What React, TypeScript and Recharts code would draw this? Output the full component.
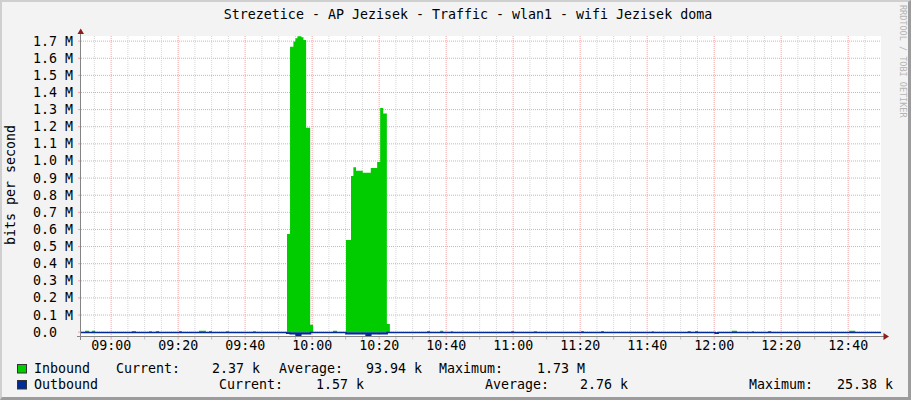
import React from "react";
import { AreaChart, Area, XAxis, YAxis, CartesianGrid } from "recharts";

// time axis in minutes since midnight
const X0 = 531;
const X1 = 769.8;
const Y0 = -25380;
const Y1 = 1730000;

const majorTicks = [540, 560, 580, 600, 620, 640, 660, 680, 700, 720, 740, 760];
const minorTicks = [
  535, 540, 545, 550, 555, 560, 565, 570, 575, 580, 585, 590, 595, 600, 605, 610, 615, 620,
  625, 630, 635, 640, 645, 650, 655, 660, 665, 670, 675, 680, 685, 690, 695, 700, 705, 710,
  715, 720, 725, 730, 735, 740, 745, 750, 755, 760, 765,
];
const yTicks = [
  0, 100000, 200000, 300000, 400000, 500000, 600000, 700000, 800000, 900000, 1000000,
  1100000, 1200000, 1300000, 1400000, 1500000, 1600000, 1700000,
];

// [minute, bits/s] change points, stepped
const inboundSteps: [number, number][] = [
  [531, 0], [532.2, 8000], [533.4, 0], [534.3, 8000], [535.2, 0],
  [546.2, 7000], [547.4, 0], [551.3, 6000], [552.2, 0], [553.4, 7000], [554.3, 0],
  [560.3, 7000], [561.1, 0], [566.2, 8000], [568.3, 0], [569.2, 7000], [570.1, 0],
  [574.3, 6000], [575.2, 0], [582.3, 6000], [583.2, 0],
  [592.5, 574000], [593.4, 1667000], [594.4, 1698000], [595.0, 1717000], [595.6, 1729000],
  [596.8, 1722000], [597.4, 1706000], [598.2, 1194000], [599.4, 43000], [600.3, 0],
  [606.2, 8000], [607.4, 0],
  [610.1, 539000], [611.6, 912000], [612.3, 963000], [613.1, 943000], [615.1, 931000],
  [617.5, 959000], [619.4, 994000], [620.3, 1309000], [621.2, 1278000], [622.3, 48000],
  [623.2, 0],
  [634.3, 7000], [635.2, 0], [638.2, 8000], [639.1, 0], [641.4, 6000], [642.0, 0],
  [659.4, 7000], [660.3, 0], [666.2, 6000], [667.1, 0], [680.3, 7000], [681.1, 0],
  [686.2, 7000], [687.1, 0], [701.4, 6000], [702.0, 0], [712.1, 7000], [713.0, 0],
  [714.3, 7000], [715.2, 0], [725.3, 8000], [726.8, 0], [731.3, 6000], [731.9, 0],
  [736.1, 7000], [737.0, 0], [760.3, 8000], [762.1, 0], [769.8, 2370],
];

// outbound is drawn below zero
const outboundSteps: [number, number][] = [
  [531, -1600], [592.4, -6000], [593.4, -10000], [595.2, -21000], [596.6, -10000],
  [599.5, -1600], [610.1, -10000], [616.1, -25380], [617.5, -10000], [622.4, -1600],
  [720.3, -6000], [721.2, -1600], [769.8, -1570],
];

const legendInbound = ["Inbound", "Current:", "2.37 k", "Average:", "93.94 k", "Maximum:", "1.73 M"];
const legendOutbound = ["Outbound", "Current:", "1.57 k", "Average:", "2.76 k", "Maximum:", "25.38 k"];
const legendInboundX = [34, 116, 212, 279, 366, 439, 537];
const legendOutboundX = [34, 219, 316, 485, 580, 749, 837];

const valueAt = (steps: [number, number][], t: number) => {
  let v = steps[0][1];
  for (const [s, val] of steps) {
    if (s <= t) v = val;
    else break;
  }
  return v;
};

const times = Array.from(new Set([...inboundSteps, ...outboundSteps].map((s) => s[0]))).sort((a, b) => a - b);
const data = times.map((t) => ({ t, inbound: valueAt(inboundSteps, t), outbound: valueAt(outboundSteps, t) }));

const FONT = "'DejaVu Sans Mono', monospace";
const GREEN = "#00CC00";
const BLUE = "#002A97";
const MGRID = "#f7a3a3";
const GRID = "#d6d6d6";

const hhmm = (m: number) => {
  const h = Math.floor(m / 60);
  const mm = Math.round(m - h * 60);
  return `${String(h).padStart(2, "0")}:${String(mm).padStart(2, "0")}`;
};

function XTick({ x, y, payload }: any) {
  const major = majorTicks.includes(payload.value);
  return (
    <g>
      <line x1={x} x2={x} y1={y} y2={y + 3} stroke={major ? MGRID : "#bdbdbd"} />
      {major && (
        <text x={x} y={y + 13.5} textAnchor="middle" fontFamily={FONT} fontSize={13.3} fill="#000">
          {hhmm(payload.value)}
        </text>
      )}
    </g>
  );
}

function YTick({ x, y, payload }: any) {
  const v = payload.value as number;
  return (
    <g>
      <line x1={x - 3} x2={x} y1={y} y2={y} stroke={MGRID} />
      <text x={x - 48} y={y + 4.5} textAnchor="start" fontFamily={FONT} fontSize={13.3} fill="#000">
        {v === 0 ? "0.0" : `${(v / 1e6).toFixed(1)} M`}
      </text>
    </g>
  );
}

const gridX = (ticks: number[]) => ({ xAxis, offset }: any) =>
  ticks.map((t) =>
    xAxis && typeof xAxis.scale === "function"
      ? xAxis.scale(t)
      : offset.left + ((t - X0) / (X1 - X0)) * offset.width
  );

const gridY = ({ yAxis, offset }: any) =>
  yTicks.map((t) =>
    yAxis && typeof yAxis.scale === "function"
      ? yAxis.scale(t)
      : offset.top + ((Y1 - t) / (Y1 - Y0)) * offset.height
  );

export default function App() {
  return (
    <div style={{ position: "absolute", left: 0, top: 0, width: 911, height: 400, background: "#f3f3f3", overflow: "hidden" }}>
      <AreaChart width={911} height={400} data={data} margin={{ top: 36, right: 30, left: 21, bottom: 33.5 }}>
        <CartesianGrid fill="#ffffff" vertical={false} horizontalCoordinatesGenerator={gridY} stroke={MGRID} strokeDasharray="1 1" />
        <CartesianGrid horizontal={false} verticalCoordinatesGenerator={gridX(minorTicks.filter((t) => !majorTicks.includes(t)))} stroke={GRID} strokeDasharray="1 1" />
        <CartesianGrid horizontal={false} verticalCoordinatesGenerator={gridX(majorTicks)} stroke={MGRID} strokeDasharray="1 1" />
        <XAxis
          dataKey="t"
          type="number"
          domain={[X0, X1]}
          allowDataOverflow
          ticks={minorTicks}
          interval={0}
          height={30}
          tickSize={0}
          tickMargin={0}
          tickLine={false}
          axisLine={false}
          tick={<XTick />}
        />
        <YAxis
          type="number"
          domain={[Y0, Y1]}
          allowDataOverflow
          ticks={yTicks}
          interval={0}
          width={60}
          tickSize={0}
          tickMargin={0}
          tickLine={false}
          axisLine={false}
          tick={<YTick />}
        />
        <Area type="stepAfter" dataKey="inbound" stroke="none" fill={GREEN} fillOpacity={1} dot={false} activeDot={false} isAnimationActive={false} />
        <Area type="stepAfter" dataKey="outbound" stroke={BLUE} strokeWidth={1.5} fill={BLUE} fillOpacity={1} dot={false} activeDot={false} isAnimationActive={false} />
      </AreaChart>

      <svg width={911} height={400} style={{ position: "absolute", left: 0, top: 0, pointerEvents: "none" }}>
        <text x={468} y={18.5} textAnchor="middle" fontFamily={FONT} fontSize={13.3} fill="#000">
          Strezetice - AP Jezisek - Traffic - wlan1 - wifi Jezisek doma
        </text>
        <text transform="translate(15,185) rotate(-90)" textAnchor="middle" fontFamily={FONT} fontSize={13.3} fill="#000">
          bits per second
        </text>
        <text transform="translate(899.5,5) rotate(90)" textAnchor="start" fontFamily={FONT} fontSize={8.5} fill="#b4b4b4">
          RRDTOOL / TOBI OETIKER
        </text>

        {/* axes */}
        <line x1={80.5} x2={80.5} y1={33} y2={340} stroke="#858585" />
        <line x1={77} x2={884} y1={336.5} y2={336.5} stroke="#858585" />
        <polygon points="80.7,28.5 77.5,34 84,34" fill="#8e1c1c" />
        <polygon points="889,336.5 883.5,333 883.5,340" fill="#8e1c1c" />

        {/* legend */}
        <rect x={17.5} y={364.5} width={9} height={8.5} fill={GREEN} stroke="#333" />
        <rect x={17.5} y={380.5} width={9} height={8.5} fill={BLUE} stroke="#333" />
        {legendInbound.map((s, i) => (
          <text key={"i" + i} x={legendInboundX[i]} y={372.5} fontFamily={FONT} fontSize={13.3} fill="#000" style={{ whiteSpace: "pre" }}>
            {s}
          </text>
        ))}
        {legendOutbound.map((s, i) => (
          <text key={"o" + i} x={legendOutboundX[i]} y={388.5} fontFamily={FONT} fontSize={13.3} fill="#000" style={{ whiteSpace: "pre" }}>
            {s}
          </text>
        ))}
      </svg>

      <div style={{ position: "absolute", left: 0, top: 0, width: 911, height: 400, boxSizing: "border-box", borderTop: "2px solid #cfcfcf", borderLeft: "2px solid #cfcfcf", borderRight: "3px solid #9c9c9c", borderBottom: "3px solid #9c9c9c", pointerEvents: "none" }} />
    </div>
  );
}
